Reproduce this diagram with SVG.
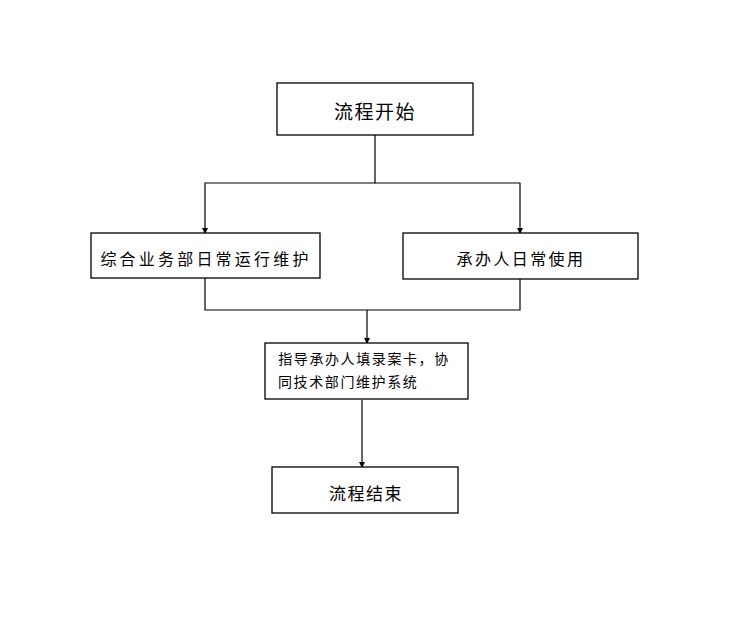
<svg xmlns="http://www.w3.org/2000/svg" width="754" height="628" viewBox="0 0 754 628">
<style>
.box{fill:#fff;stroke:#000;stroke-width:1.3}
.t{font-family:"Noto Sans CJK SC","Noto Sans CJK JP",sans-serif;fill:#000;text-anchor:middle;dominant-baseline:central}
.c{fill:none;stroke:#000;stroke-width:1.2}
</style>
<defs>
<marker id="ah" markerWidth="6" markerHeight="6" refX="5" refY="3" orient="auto" markerUnits="userSpaceOnUse">
<path d="M0,0 L6,3 L0,6 Z" fill="#000"/>
</marker>
</defs>
<rect width="754" height="628" fill="#fff"/>
<g id="connectors">
<path class="c" d="M375,135 V183 H205 V233" marker-end="url(#ah)"/>
<path class="c" d="M375,183 H520 V233" marker-end="url(#ah)"/>
<path class="c" d="M205,278 V310 H520 V279"/>
<path class="c" d="M367,310 V343" marker-end="url(#ah)"/>
<path class="c" d="M362,400 V467" marker-end="url(#ah)"/>
</g>
<g id="start">
<rect class="box" x="277" y="83" width="196" height="52"/>
<text class="t" x="375" y="110" font-size="19" letter-spacing="1.5">流程开始</text>
</g>
<g id="left">
<rect class="box" x="91" y="233" width="229" height="45"/>
<text class="t" x="206" y="258" font-size="16" letter-spacing="3.2">综合业务部日常运行维护</text>
</g>
<g id="right">
<rect class="box" x="403" y="233" width="235" height="46"/>
<text class="t" x="521" y="258" font-size="16" letter-spacing="2.4">承办人日常使用</text>
</g>
<g id="middle">
<rect class="box" x="265" y="343" width="203" height="56"/>
<text class="t" x="364" y="358" font-size="14" letter-spacing="1.6">指导承办人填录案卡，协</text>
<text class="t" x="278" y="381" font-size="14" letter-spacing="1.6" text-anchor="start" style="text-anchor:start">同技术部门维护系统</text>
</g>
<g id="end">
<rect class="box" x="272" y="467" width="186" height="46"/>
<text class="t" x="366" y="492" font-size="17" letter-spacing="1.5">流程结束</text>
</g>
</svg>
